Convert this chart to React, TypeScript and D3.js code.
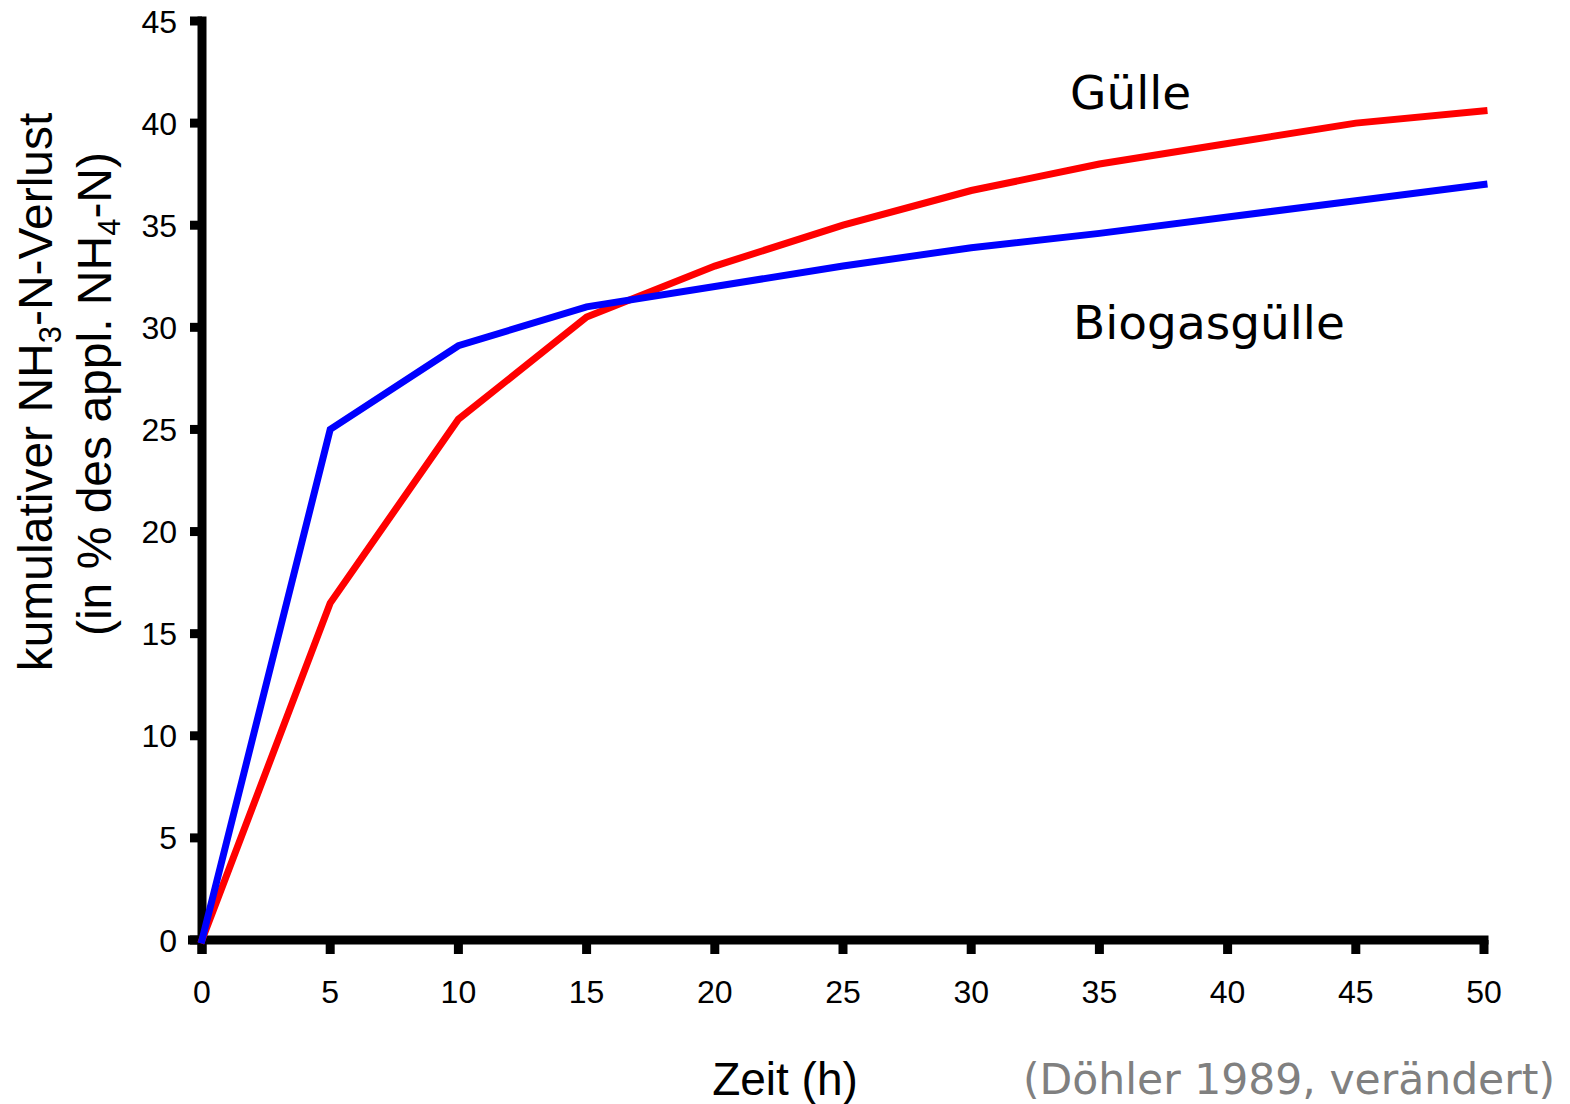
import React from "react";
import * as d3 from "d3";

const hours = [0, 5, 10, 15, 20, 25, 30, 35, 40, 45, 50];
const guelle = [0, 16.5, 25.5, 30.5, 33, 35, 36.7, 38, 39, 40, 40.6];
const biogas = [0, 25, 29.1, 31, 32, 33, 33.9, 34.6, 35.4, 36.2, 37];
const xTicks = [0, 5, 10, 15, 20, 25, 30, 35, 40, 45, 50];
const yTicks = [0, 5, 10, 15, 20, 25, 30, 35, 40, 45];

const W = 1570;
const H = 1104;

export default function App() {
  const x = d3.scaleLinear().domain([0, 50]).range([202, 1484]);
  const y = d3.scaleLinear().domain([0, 45]).range([940, 21]);
  const line = d3
    .line<number>()
    .x((_, i) => x(hours[i]))
    .y((d) => y(d));

  const arial = "'Liberation Sans', Arial, sans-serif";
  const dejavu = "'DejaVu Sans', Verdana, sans-serif";

  return (
    <svg
      width={W}
      height={H}
      style={{ position: "absolute", left: 0, top: 0, background: "#fff" }}
    >
      <rect x={0} y={0} width={W} height={H} fill="#fff" />
      {/* axes */}
      <line x1={x(0)} x2={x(0)} y1={y(45) - 4.5} y2={y(0) + 14} stroke="#000" strokeWidth={9} />
      <line x1={x(0) - 14} x2={x(50) + 4.5} y1={y(0)} y2={y(0)} stroke="#000" strokeWidth={9} />
      {yTicks.map((t) => (
        <g key={"y" + t}>
          <line x1={x(0) - 12} x2={x(0)} y1={y(t)} y2={y(t)} stroke="#000" strokeWidth={9} />
          <text
            x={177}
            y={y(t) + 11.5}
            textAnchor="end"
            fontFamily={arial}
            fontSize={32}
            fill="#000"
          >
            {t}
          </text>
        </g>
      ))}
      {xTicks.map((t) => (
        <g key={"x" + t}>
          <line x1={x(t)} x2={x(t)} y1={y(0)} y2={y(0) + 14} stroke="#000" strokeWidth={9} />
          <text
            x={x(t)}
            y={1003}
            textAnchor="middle"
            fontFamily={arial}
            fontSize={32}
            fill="#000"
          >
            {t}
          </text>
        </g>
      ))}

      {/* series */}
      <path d={line(guelle) || ""} fill="none" stroke="#ff0000" strokeWidth={7} strokeLinejoin="miter" strokeLinecap="square" />
      <path d={line(biogas) || ""} fill="none" stroke="#0000ff" strokeWidth={7} strokeLinejoin="miter" strokeLinecap="square" />

      {/* series labels */}
      <text x={1070} y={109} fontFamily={dejavu} fontSize={47} fill="#000">
        Gülle
      </text>
      <text x={1073} y={339} fontFamily={dejavu} fontSize={47} fill="#000">
        Biogasgülle
      </text>

      {/* axis titles */}
      <text x={785} y={1095} textAnchor="middle" fontFamily={arial} fontSize={46} fill="#000">
        Zeit (h)
      </text>
      <g transform="translate(52,392) rotate(-90)">
        <text x={0} y={0} textAnchor="middle" fontFamily={arial} fontSize={48} fill="#000">
          kumulativer NH
          <tspan fontSize={31} dy={9}>3</tspan>
          <tspan dy={-9}>-N-Verlust</tspan>
        </text>
      </g>
      <g transform="translate(111,394) rotate(-90)">
        <text x={0} y={0} textAnchor="middle" fontFamily={arial} fontSize={48} fill="#000">
          (in % des appl. NH
          <tspan fontSize={31} dy={9}>4</tspan>
          <tspan dy={-9}>-N)</tspan>
        </text>
      </g>

      {/* source */}
      <text x={1555} y={1094} textAnchor="end" fontFamily={dejavu} fontSize={42.5} fill="#808080">
        (Döhler 1989, verändert)
      </text>
    </svg>
  );
}
